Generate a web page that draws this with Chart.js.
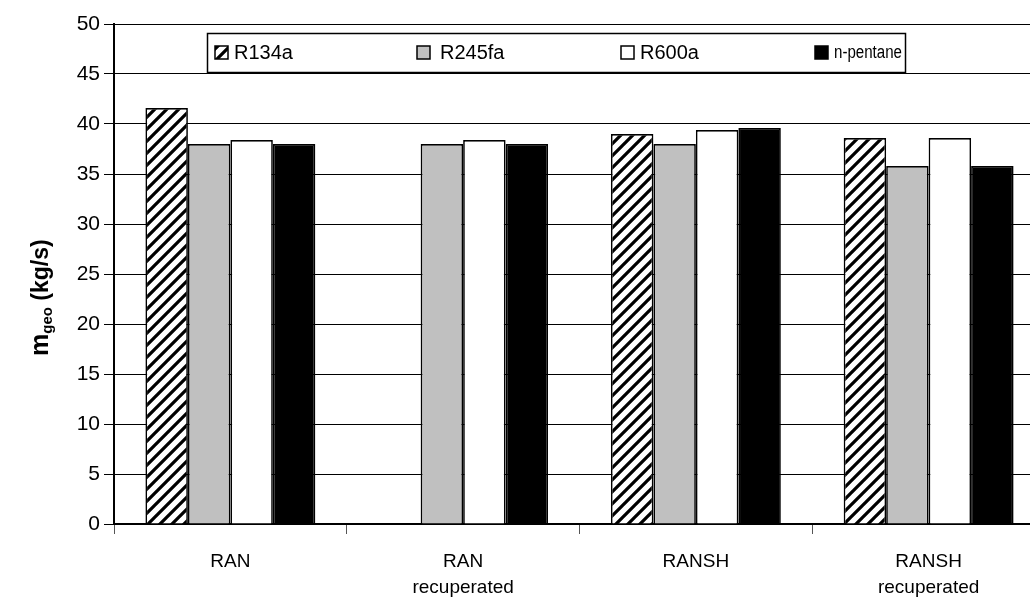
<!DOCTYPE html>
<html>
<head>
<meta charset="utf-8">
<script src="https://cdn.jsdelivr.net/npm/chart.js@4.4.1/dist/chart.umd.min.js"></script>
<style>
html,body{margin:0;padding:0;background:#fff;overflow:hidden;}
#wrap{position:relative;width:1060px;height:601px;}
</style>
</head>
<body>
<div id="wrap"><canvas id="c" width="1060" height="601"></canvas></div>
<script>
const categories = [['RAN'], ['RAN','recuperated'], ['RANSH'], ['RANSH','recuperated']];
const seriesNames = ['R134a', 'R245fa', 'R600a', 'n-pentane'];
const r134a = [41.6, null, 39.0, 38.6];
const r245fa = [38.0, 38.0, 38.0, 35.8];
const r600a = [38.4, 38.4, 39.4, 38.6];
const npentane = [38.0, 38.0, 39.6, 35.8];
const yTicks = [0,5,10,15,20,25,30,35,40,45,50];

function hatch(){
  const p = document.createElement('canvas');
  p.width = 12; p.height = 12;
  const g = p.getContext('2d');
  g.fillStyle = '#fff'; g.fillRect(0,0,12,12);
  g.strokeStyle = '#000'; g.lineWidth = 3.2;
  g.beginPath();
  for (let k=-1;k<=1;k++){
    g.moveTo(k*12-2, 14); g.lineTo(k*12+14, -2);
  }
  g.stroke();
  return g.createPattern(p,'repeat');
}
const hatchFill = hatch();
const fills = [hatchFill, '#c0c0c0', '#ffffff', '#000000'];
const seriesData = [r134a, r245fa, r600a, npentane];

const legendPlugin = {
  id:'customLegend',
  afterDraw(chart){
    const c = chart.ctx;
    c.save();
    const x0=207, y0=33, x1=905, y1=72;
    c.fillStyle='#fff'; c.fillRect(x0,y0,x1-x0,y1-y0);
    c.strokeStyle='#000'; c.lineWidth=1.5;
    c.strokeRect(x0+0.5,y0+0.5,x1-x0,y1-y0);
    const xs=[215,417,621,815];
    const tx=[234,440,640,834];
    const mw=[60,66,62,68];
    c.textBaseline='middle';
    for(let i=0;i<4;i++){
      const sx=xs[i], sy=46;
      c.fillStyle=fills[i];
      c.fillRect(sx,sy,13,13);
      c.lineWidth=1.5; c.strokeStyle='#000';
      c.strokeRect(sx,sy,13,13);
      c.fillStyle='#000';
      c.font = (i===3 ? '18px' : '20px') + ' "Liberation Sans", Arial, sans-serif';
      c.fillText(seriesNames[i], tx[i], 53, mw[i]);
    }
    c.restore();
  }
};
const yTitlePlugin = {
  id:'yTitle',
  afterDraw(chart){
    const c = chart.ctx;
    c.save();
    c.translate(48, 356);
    c.rotate(-Math.PI/2);
    c.fillStyle='#000';
    c.textBaseline='alphabetic';
    c.font='bold 25px "Liberation Sans", Arial, sans-serif';
    c.fillText('m',0,0);
    let w=c.measureText('m').width;
    c.font='bold 15px "Liberation Sans", Arial, sans-serif';
    c.fillText('geo',w,4);
    w+=c.measureText('geo').width;
    c.font='bold 23px "Liberation Sans", Arial, sans-serif';
    c.fillText(' (kg/s)',w,0);
    c.restore();
  }
};

new Chart(document.getElementById('c'), {
  type:'bar',
  data:{
    labels: categories,
    datasets: seriesData.map((d,i)=>({
      label: seriesNames[i],
      data: d,
      backgroundColor: fills[i],
      borderColor:'#000',
      borderWidth:1.7,
      categoryPercentage:0.73,
      barPercentage:1.0
    }))
  },
  options:{
    responsive:false,
    animation:false,
    layout:{padding:{top:24,left:0,right:15,bottom:0}},
    plugins:{legend:{display:false},tooltip:{enabled:false}},
    scales:{
      x:{
        afterFit(s){ s.height = 601-24-500-0; },
        grid:{display:true, offset:true, drawOnChartArea:false, color:'#555', tickLength:10, lineWidth:1},
        border:{color:'#000', width:2},
        ticks:{color:'#000', font:{family:'"Liberation Sans", Arial, sans-serif', size:19, lineHeight:1.4}, padding:14}
      },
      y:{
        min:0, max:50,
        afterFit(s){ s.width = 114; },
        afterBuildTicks(s){ s.ticks = yTicks.map(v=>({value:v})); },
        grid:{color:'#000', lineWidth:1, tickLength:10},
        border:{color:'#000', width:2},
        ticks:{color:'#000', font:{family:'"Liberation Sans", Arial, sans-serif', size:21}, padding:4}
      }
    }
  },
  plugins:[legendPlugin, yTitlePlugin]
});
</script>
</body>
</html>
